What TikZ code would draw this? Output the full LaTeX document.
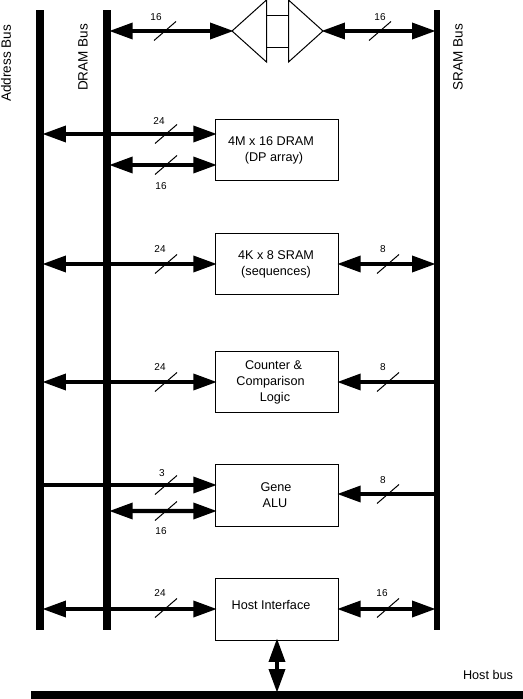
\documentclass[tikz,border=0pt]{standalone}
\usepackage{fontspec}
\setmainfont{Liberation Sans}
\usetikzlibrary{arrows.meta,calc}
\tikzset{
  busbar/.style={fill=black, inner sep=0pt, outer sep=0pt, minimum width=#1*0.02cm},
  block/.style={draw, line width=0.57pt, inner sep=0pt, outer sep=0pt, minimum width=2.47cm, minimum height=1.24cm,
                font=\fontsize{7.2pt}{9.1pt}\selectfont, align=center,
                execute at begin node={\rule{0pt}{7.5pt}}},
  buslabel/.style={font=\fontsize{7.2pt}{9pt}\selectfont, inner sep=0pt},
  busname/.style={font=\fontsize{7.7pt}{9pt}\selectfont, inner sep=0pt, rotate=90},
  widthlabel/.style={font=\fontsize{5.7pt}{7pt}\selectfont, inner sep=0pt},
  thinline/.style={line width=0.57pt},
  bothway/.style={line width=2.3pt, shorten <=-1pt, shorten >=-1pt,
                  {Triangle[length=13.5pt,width=9pt]}-{Triangle[length=13.5pt,width=9pt]}},
  oneway/.style={line width=2.3pt, shorten >=-1pt, -{Triangle[length=13.5pt,width=9pt]}},
}
\begin{document}
\begin{tikzpicture}[x=0.02cm, y=-0.02cm]
\useasboundingbox (0,0) rectangle (523,699);
% Vertical buses
\node[busbar=8, minimum height=12.4cm] (addrbus) at (40,320) {};
\node[busbar=7.5, minimum height=12.4cm] (drambus) at (107,320) {};
\node[busbar=6, minimum height=12.4cm] (srambus) at (437,320) {};
\node[busbar=492, minimum height=0.16cm] (hostbus) at (277,695) {};
% Bus names
\node[busname] (addrname) at (6,63.5) {Address Bus};
\node[busname] (dramname) at (83,57.5) {DRAM Bus};
\node[busname] (sramname) at (458,57) {SRAM Bus};
\node[buslabel] (hostname) at (488,675) {Host bus};
% Blocks
\node[block] (dram) at (277,150) {4M x 16 DRAM\kern6.8pt\\(DP array)\kern3.4pt};
\node[block] (sram) at (277,264) {4K x 8 SRAM\kern1.1pt\\(sequences)\kern1.1pt};
\node[block] (logic) at (277,382) {Counter \&\kern4pt\\Comparison\kern7.4pt\\Logic\kern2.3pt};
\node[block] (alu) at (277,495.5) {Gene\kern1.1pt\\ALU\kern2.3pt};
\node[block] (host) at (277,609) {\smash{\raisebox{3.4pt}{Host Interface}}\kern6.8pt};
% Bridge at the top
\coordinate (brl) at (232,31);
\coordinate (brr) at (323,31);
\draw[thinline] (brl) -- (266.5,0) -- (266.5,62) -- cycle;
\draw[thinline] (brr) -- (288.5,0) -- (288.5,62) -- cycle;
\draw[thinline] (266.5,16) -- (288.5,16) (266.5,47.5) -- (288.5,47.5);
\draw[bothway] (drambus.east |- brl) -- (brl);
\draw[bothway] (brr) -- (srambus.west |- brr);
% Lines on the left of each block
\draw[bothway] (addrbus.east |- 0,134) coordinate (a1) -- ($(dram.west)+(0,-16)$);
\draw[bothway] (drambus.east |- 0,165) coordinate (d1) -- ($(dram.west)+(0,15)$);
\draw[bothway] (addrbus.east |- sram.west) -- (sram.west);
\draw[bothway] (addrbus.east |- logic.west) -- (logic.west);
\draw[oneway] (addrbus.east |- 0,485) coordinate (a4) -- ($(alu.west)+(0,-10.5)$);
\draw[bothway] (drambus.east |- 0,511) coordinate (d4) -- ($(alu.west)+(0,15.5)$);
\draw[bothway] (addrbus.east |- host.west) -- (host.west);
% Lines on the right of each block
\draw[bothway] (sram.east) -- (srambus.west |- sram.east);
\draw[oneway] (srambus.west |- logic.east) -- (logic.east);
\draw[oneway] (srambus.west |- 0,494) coordinate (s4) -- ($(alu.east)+(0,-1.5)$);
\draw[bothway] (host.east) -- (srambus.west |- host.east);
% Host link
\draw[bothway] (host.south) -- (hostbus.north -| host.south);
% Width marks
\foreach \x/\y/\lx/\ly/\lbl in {
  165/31/156/17/16, 380/31/380/17/16,
  166/134/159/121/24, 166/165/161/186/16,
  166/264/160/249/24, 388/264/383/249/8,
  166/382/160/367/24, 388/382/383/367/8,
  166/485/162/473/3, 166/511/161/531/16, 388/494/383/480/8,
  166/608/160/593/24, 388/608/382/593/16}{
  \draw[thinline] (\x-11,\y+9.5) -- (\x+11,\y-9.5);
  \node[widthlabel] at (\lx,\ly) {\lbl};
}
\end{tikzpicture}
\end{document}
